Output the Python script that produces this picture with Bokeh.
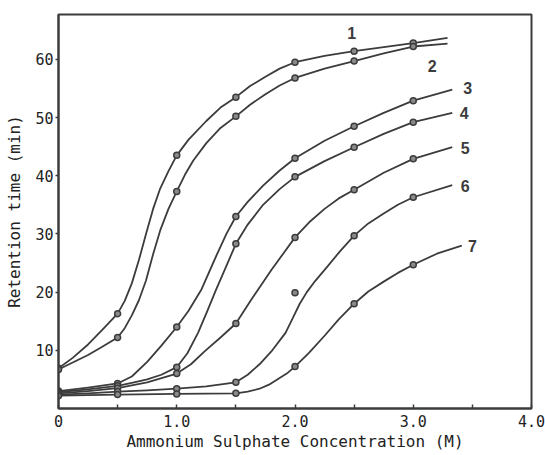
from bokeh.plotting import figure
from bokeh.models import Range1d, FixedTicker
from bokeh.embed import file_html
from bokeh.resources import INLINE
from bokeh.core.properties import value

# ---- measured points (concentration M, retention time min) ----
meas_x = [0.0, 0.5, 1.0, 1.5, 2.0, 2.5, 3.0]
meas_1 = [6.9, 16.3, 43.5, 53.5, 59.5, 61.4, 62.8]
meas_2 = [6.7, 12.2, 37.3, 50.2, 56.8, 59.7, 62.2]
meas_3 = [3.0, 4.3, 14.0, 33.0, 43.0, 48.5, 52.9]
meas_4 = [2.8, 3.9, 7.1, 28.3, 39.8, 44.9, 49.2]
meas_5 = [2.6, 3.5, 6.0, 14.6, 29.4, 37.6, 42.9]
meas_6 = [2.4, 2.9, 3.4, 4.5, 19.9, 29.7, 36.3]
meas_7 = [2.2, 2.4, 2.5, 2.6, 7.2, 18.0, 24.7]

# ---- hand-drawn fitted curves ----
c1_x = [0, 0.12, 0.25, 0.37, 0.5, 0.56, 0.62, 0.68, 0.74, 0.80, 0.86, 0.93, 1.0,
        1.1, 1.25, 1.37, 1.5, 1.62, 1.75, 1.87, 2.0, 2.25, 2.5, 2.75, 3.0, 3.29]
c1_y = [6.9, 8.7, 11.0, 13.5, 16.3, 18.5, 21.5, 25.5, 30.0, 34.3, 37.8, 40.8, 43.5,
        46.2, 49.4, 51.7, 53.5, 55.4, 57.0, 58.4, 59.5, 60.6, 61.4, 62.1, 62.8, 63.7]
c2_x = [0, 0.12, 0.25, 0.37, 0.5, 0.56, 0.62, 0.68, 0.74, 0.80, 0.86, 0.93, 1.0,
        1.07, 1.14, 1.25, 1.37, 1.5, 1.62, 1.75, 1.87, 2.0, 2.25, 2.5, 2.75, 3.0, 3.29]
c2_y = [6.7, 7.9, 9.2, 10.6, 12.2, 13.8, 16.0, 18.6, 22.0, 26.5, 30.6, 34.3, 37.3,
        40.2, 42.6, 45.6, 48.2, 50.2, 52.2, 54.0, 55.5, 56.8, 58.4, 59.7, 61.0, 62.2, 62.7]
c3_x = [0, 0.25, 0.5, 0.62, 0.75, 0.87, 1.0, 1.1, 1.21, 1.34, 1.42, 1.5, 1.6, 1.73,
        1.87, 2.0, 2.25, 2.5, 2.75, 3.0, 3.33]
c3_y = [3.0, 3.6, 4.3, 5.5, 8.0, 10.8, 14.0, 16.8, 20.5, 26.5, 30.0, 33.0, 35.5, 38.3,
        40.9, 43.0, 46.0, 48.5, 50.8, 52.9, 54.8]
c4_x = [0, 0.25, 0.5, 0.62, 0.75, 0.87, 1.0, 1.09, 1.18, 1.26, 1.33, 1.42, 1.5, 1.6,
        1.73, 1.87, 2.0, 2.25, 2.5, 2.75, 3.0, 3.33]
c4_y = [2.8, 3.3, 3.9, 4.4, 5.0, 5.8, 7.1, 9.5, 13.0, 16.8, 20.3, 24.5, 28.3, 31.6,
        35.0, 37.7, 39.8, 42.5, 44.9, 47.2, 49.2, 50.8]
c5_x = [0, 0.25, 0.5, 0.75, 1.0, 1.12, 1.24, 1.37, 1.5, 1.62, 1.71, 1.8, 1.9, 2.0,
        2.12, 2.25, 2.37, 2.5, 2.75, 3.0, 3.33]
c5_y = [2.6, 3.0, 3.5, 4.5, 6.0, 7.6, 9.9, 12.2, 14.6, 18.4, 21.1, 23.8, 26.6, 29.4,
        32.0, 34.3, 36.1, 37.6, 40.5, 42.9, 44.9]
c6_x = [0, 0.25, 0.5, 0.75, 1.0, 1.25, 1.5, 1.6, 1.7, 1.8, 1.92, 1.98, 2.04, 2.1,
        2.17, 2.27, 2.38, 2.5, 2.62, 2.75, 2.87, 3.0, 3.33]
c6_y = [2.4, 2.6, 2.9, 3.1, 3.4, 3.8, 4.5, 5.8, 7.6, 9.8, 13.0, 15.5, 18.0, 20.0,
        21.9, 24.3, 27.0, 29.7, 31.8, 33.5, 35.0, 36.3, 38.4]
c7_x = [0, 0.5, 1.0, 1.5, 1.6, 1.7, 1.78, 1.85, 1.93, 2.0, 2.12, 2.25, 2.37, 2.5,
        2.62, 2.75, 2.87, 3.0, 3.2, 3.41]
c7_y = [2.2, 2.4, 2.5, 2.6, 2.9, 3.4, 4.1, 5.0, 6.0, 7.2, 9.6, 12.5, 15.3, 18.0,
        20.1, 21.8, 23.3, 24.7, 26.6, 28.0]

# ---- curve number labels ----
lab_text = ["1", "2", "3", "4", "5", "6", "7"]
lab_x = [2.48, 3.16, 3.46, 3.43, 3.44, 3.44, 3.50]
lab_y = [64.6, 58.8, 55.0, 50.7, 44.7, 38.3, 28.0]

# ---- axis ticks ----
x_ticks = [0, 0.5, 1.0, 1.5, 2.0, 2.5, 3.0, 3.5, 4.0]
x_tick_labels = {0: "0", 1: "1.0", 2: "2.0", 3: "3.0", 4: "4.0"}
y_ticks = [10, 20, 30, 40, 50, 60]

INK = "#3c3c3c"
MONO = "DejaVu Sans Mono"

p = figure(width=545, height=455, output_backend="svg", toolbar_location=None,
           x_range=Range1d(0, 4.0), y_range=Range1d(0, 67.7),
           min_border_left=58, min_border_right=14, min_border_top=14, min_border_bottom=47)
p.background_fill_color = "white"
p.border_fill_color = "white"
p.grid.visible = False
p.outline_line_color = INK
p.outline_line_width = 2

curves = [(c1_x, c1_y), (c2_x, c2_y), (c3_x, c3_y), (c4_x, c4_y),
          (c5_x, c5_y), (c6_x, c6_y), (c7_x, c7_y)]
for cx, cy in curves:
    p.line(cx, cy, line_color=INK, line_width=1.8, line_join="round")

for my in [meas_1, meas_2, meas_3, meas_4, meas_5, meas_6, meas_7]:
    p.scatter(meas_x, my, marker="circle", size=6, fill_color="#8a8a8a",
              line_color=INK, line_width=1.5)

p.text(lab_x, lab_y, text=lab_text, text_font=value("Liberation Sans"),
       text_font_style="bold", text_font_size="16px", text_color=INK,
       text_align="center", text_baseline="middle")

xa = p.xaxis[0]
xa.ticker = FixedTicker(ticks=x_ticks)
xa.major_label_overrides = {k: v for k, v in x_tick_labels.items()}
for t in x_ticks:
    if t not in x_tick_labels:
        xa.major_label_overrides[t] = ""
xa.major_tick_in = 4
xa.major_tick_out = 0
xa.minor_tick_line_color = None
xa.axis_label = "Ammonium Sulphate Concentration (M)"

ya = p.yaxis[0]
ya.ticker = FixedTicker(ticks=y_ticks)
ya.major_tick_in = 0
ya.major_tick_out = 3
ya.minor_tick_line_color = None
ya.axis_label = "Retention time (min)"

for ax in [xa, ya]:
    ax.axis_line_color = INK
    ax.axis_line_width = 2
    ax.major_tick_line_color = INK
    ax.major_tick_line_width = 1.5
    ax.major_label_text_font = MONO
    ax.major_label_text_font_size = "15px"
    ax.major_label_text_color = "#222222"
    ax.axis_label_text_font = MONO
    ax.axis_label_text_font_size = "16px"
    ax.axis_label_text_font_style = "normal"
    ax.axis_label_text_color = "#222222"

xa.major_label_standoff = 6
xa.axis_label_standoff = 2
ya.major_label_standoff = 2
ya.axis_label_standoff = 8

open("out.html", "w").write(file_html(p, INLINE))
